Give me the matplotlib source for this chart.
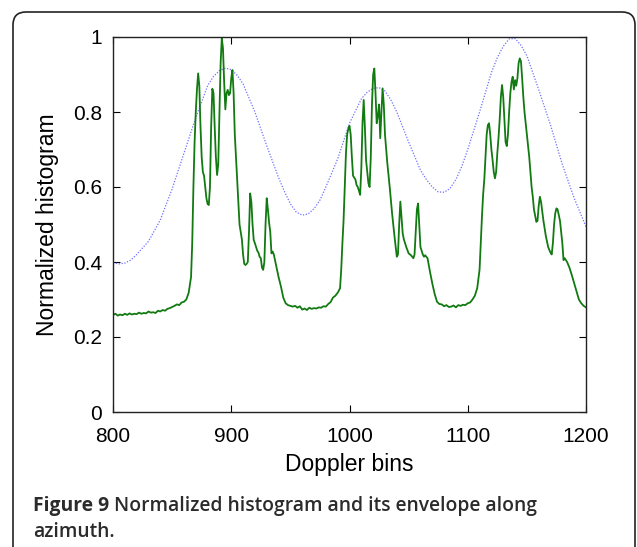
import numpy as np
import matplotlib
matplotlib.use("Agg")
import matplotlib.pyplot as plt
from matplotlib.patches import FancyBboxPatch

# green: normalized histogram (Doppler bin, value)
hist_bins = [800, 802, 804, 806, 808, 810, 812, 814, 816, 818, 820, 822, 824, 826, 828, 830,
             832, 834, 836, 838, 840, 842, 844, 846, 848, 850, 852, 854, 856, 858, 860, 862,
             864, 866, 867, 868, 869, 870, 871, 872, 873, 874, 875, 876, 877, 878, 879, 880,
             881, 882, 883, 884, 885, 886, 887, 888, 889, 890, 891, 892, 893, 894, 895, 896,
             897, 898, 899, 900, 901, 902, 903, 904, 905, 906, 907, 908, 909, 910, 911, 912,
             913, 914, 915, 916, 917, 918, 919, 920, 921, 922, 923, 924, 925, 926, 927, 928,
             929, 930, 931, 932, 933, 934, 935, 936, 937, 938, 940, 942, 944, 946, 948, 950,
             952, 954, 956, 958, 960, 962, 964, 966, 968, 970, 972, 974, 976, 978, 980, 982,
             984, 986, 988, 990, 992, 993, 994, 995, 996, 997, 998, 999, 1000, 1001, 1002, 1003,
             1004, 1005, 1006, 1007, 1008, 1009, 1010, 1011, 1012, 1013, 1014, 1015, 1016, 1017,
             1018, 1019, 1020, 1021, 1022, 1023, 1024, 1025, 1026, 1027, 1028, 1029, 1030, 1032,
             1034, 1036, 1038, 1040, 1041, 1042, 1043, 1044, 1045, 1046, 1048, 1050, 1052, 1054,
             1055, 1056, 1057, 1058, 1059, 1060, 1061, 1062, 1063, 1064, 1066, 1068, 1070, 1072,
             1074, 1076, 1078, 1080, 1082, 1084, 1086, 1088, 1090, 1092, 1094, 1096, 1098, 1100,
             1102, 1104, 1106, 1108, 1110, 1111, 1112, 1113, 1114, 1115, 1116, 1117, 1118, 1119,
             1120, 1121, 1122, 1123, 1124, 1125, 1126, 1127, 1128, 1129, 1130, 1131, 1132, 1133,
             1134, 1135, 1136, 1137, 1138, 1139, 1140, 1141, 1142, 1143, 1144, 1145, 1146, 1147,
             1148, 1150, 1152, 1154, 1155, 1156, 1158, 1159, 1160, 1161, 1162, 1164, 1166, 1168,
             1169, 1170, 1171, 1172, 1173, 1174, 1175, 1176, 1178, 1180, 1181, 1182, 1184, 1186,
             1188, 1190, 1192, 1194, 1196, 1198, 1200]
hist_vals = [0.259, 0.262, 0.257, 0.260, 0.258, 0.262, 0.259, 0.263, 0.260, 0.262, 0.261, 0.265,
             0.262, 0.264, 0.263, 0.268, 0.265, 0.266, 0.264, 0.270, 0.268, 0.272, 0.270, 0.275,
             0.277, 0.280, 0.283, 0.287, 0.285, 0.292, 0.294, 0.300, 0.318, 0.360, 0.450, 0.600,
             0.720, 0.800, 0.860, 0.903, 0.870, 0.760, 0.680, 0.640, 0.630, 0.600, 0.570, 0.555,
             0.552, 0.600, 0.760, 0.862, 0.850, 0.760, 0.680, 0.632, 0.660, 0.800, 0.930, 0.996,
             0.970, 0.880, 0.807, 0.850, 0.859, 0.845, 0.850, 0.890, 0.912, 0.850, 0.740, 0.680,
             0.620, 0.560, 0.500, 0.480, 0.460, 0.420, 0.395, 0.392, 0.395, 0.400, 0.480, 0.583,
             0.560, 0.500, 0.459, 0.450, 0.440, 0.430, 0.425, 0.414, 0.410, 0.385, 0.379, 0.400,
             0.500, 0.570, 0.540, 0.505, 0.480, 0.423, 0.428, 0.420, 0.405, 0.390, 0.360, 0.335,
             0.305, 0.290, 0.285, 0.283, 0.281, 0.283, 0.278, 0.282, 0.273, 0.276, 0.272, 0.278,
             0.275, 0.277, 0.276, 0.279, 0.278, 0.282, 0.281, 0.288, 0.293, 0.305, 0.310, 0.318,
             0.330, 0.380, 0.450, 0.512, 0.600, 0.690, 0.740, 0.755, 0.763, 0.740, 0.680, 0.630,
             0.625, 0.620, 0.605, 0.600, 0.590, 0.579, 0.650, 0.770, 0.832, 0.760, 0.672, 0.640,
             0.610, 0.600, 0.680, 0.820, 0.900, 0.916, 0.850, 0.770, 0.790, 0.820, 0.730, 0.800,
             0.863, 0.820, 0.740, 0.663, 0.600, 0.530, 0.470, 0.414, 0.420, 0.500, 0.561, 0.520,
             0.476, 0.460, 0.440, 0.423, 0.418, 0.410, 0.420, 0.480, 0.540, 0.556, 0.500, 0.440,
             0.430, 0.420, 0.414, 0.418, 0.410, 0.375, 0.343, 0.315, 0.294, 0.288, 0.287, 0.282,
             0.285, 0.280, 0.281, 0.284, 0.279, 0.285, 0.283, 0.286, 0.285, 0.290, 0.292, 0.300,
             0.310, 0.330, 0.380, 0.450, 0.520, 0.580, 0.620, 0.680, 0.740, 0.765, 0.770, 0.740,
             0.700, 0.672, 0.640, 0.623, 0.640, 0.690, 0.730, 0.780, 0.840, 0.872, 0.840, 0.780,
             0.720, 0.709, 0.740, 0.800, 0.850, 0.880, 0.894, 0.860, 0.885, 0.870, 0.890, 0.930,
             0.943, 0.935, 0.890, 0.840, 0.800, 0.740, 0.680, 0.600, 0.574, 0.540, 0.507, 0.510,
             0.550, 0.574, 0.560, 0.510, 0.470, 0.440, 0.432, 0.425, 0.420, 0.450, 0.500, 0.530,
             0.543, 0.540, 0.510, 0.450, 0.405, 0.410, 0.400, 0.385, 0.365, 0.343, 0.320, 0.300,
             0.290, 0.283, 0.279]

# blue dotted: envelope
env_bins = [800, 805, 810, 815, 820, 830, 840, 850, 860, 870, 880, 885, 890, 895, 900, 905,
            910, 920, 930, 940, 945, 950, 955, 960, 965, 970, 975, 980, 990, 1000, 1010, 1015,
            1020, 1025, 1030, 1035, 1040, 1050, 1060, 1065, 1070, 1075, 1080, 1085, 1090,
            1095, 1100, 1110, 1120, 1125, 1130, 1135, 1140, 1145, 1150, 1160, 1170, 1180,
            1190, 1200]
env_vals = [0.398, 0.395, 0.397, 0.405, 0.420, 0.455, 0.512, 0.595, 0.690, 0.785, 0.870, 0.895,
            0.910, 0.917, 0.913, 0.898, 0.875, 0.800, 0.710, 0.625, 0.588, 0.555, 0.533, 0.525,
            0.528, 0.542, 0.565, 0.600, 0.675, 0.770, 0.835, 0.853, 0.863, 0.865, 0.856, 0.832,
            0.800, 0.720, 0.645, 0.620, 0.600, 0.587, 0.586, 0.596, 0.620, 0.655, 0.700, 0.800,
            0.905, 0.945, 0.975, 0.995, 0.996, 0.978, 0.950, 0.860, 0.765, 0.660, 0.570, 0.494]

x_ticks = [800, 900, 1000, 1100, 1200]
y_ticks = [0, 0.2, 0.4, 0.6, 0.8, 1]
y_ticklabels = ["0", "0.2", "0.4", "0.6", "0.8", "1"]

plt.rcParams["font.family"] = ["Liberation Sans", "DejaVu Sans"]

W, H = 637, 547
fig = plt.figure(figsize=(W / 100, H / 100), dpi=100)
ax = fig.add_axes([113 / W, 1 - 412 / H, (586 - 113) / W, (412 - 37) / H])

ax.plot(env_bins, env_vals, color="#6f6fff", ls=(0, (1, 1.3)), lw=0.9)
ax.plot(hist_bins, hist_vals, color="#117a11", lw=1.3)

ax.set_xlim(800, 1200)
ax.set_ylim(0, 1)
ax.set_xticks(x_ticks)
ax.set_yticks(y_ticks)
ax.set_yticklabels(y_ticklabels)
ax.tick_params(direction="in", length=5, width=0.8, top=True, right=True, labelsize=15)
ax.tick_params(axis="x", pad=11)
ax.tick_params(axis="y", pad=8)
for s in ax.spines.values():
    s.set_linewidth(1.0)
    s.set_color("#222222")
ax.set_xlabel("Doppler bins", fontsize=16.5, labelpad=5)
ax.set_ylabel("Normalized histogram", fontsize=16.5, labelpad=10)

# rounded frame, clipped at the bottom
frame = FancyBboxPatch((0.13, -0.3), 6.22, 5.65, boxstyle="round,pad=0,rounding_size=0.13",
                       transform=fig.dpi_scale_trans, fill=False, ec="#222222", lw=1.2)
fig.add_artist(frame)

# caption
cap_col = "#2b2b2b"
t1 = fig.text(33 / W, 1 - 511 / H, "Figure 9", family="Open Sans", weight="bold",
              size=13.9, color=cap_col, va="baseline")
fig.canvas.draw()
bb = t1.get_window_extent()
fig.text((bb.x1 + 5) / W, 1 - 511 / H, "Normalized histogram and its envelope along",
         family="Open Sans", weight=600, size=13.9, color=cap_col, va="baseline")
fig.text(33 / W, 1 - 537 / H, "azimuth.", family="Open Sans", weight=600,
         size=13.9, color=cap_col, va="baseline")

fig.savefig("out.png", dpi=100)
